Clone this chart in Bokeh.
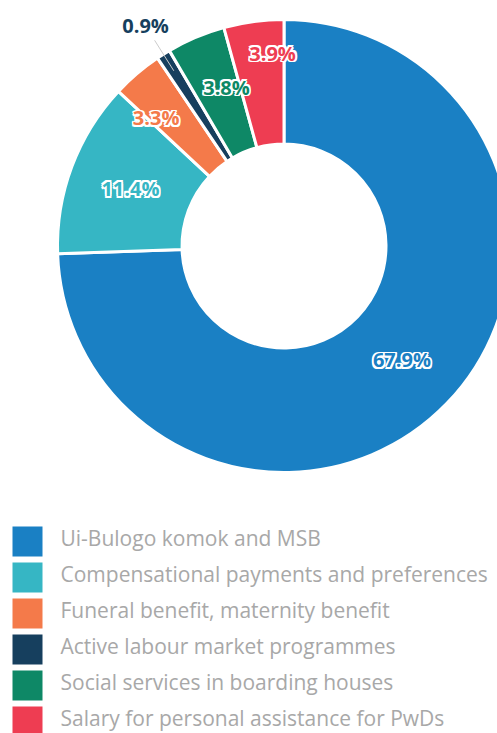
import numpy as np
from bokeh.plotting import figure
from bokeh.models import Range1d, ColumnDataSource
from bokeh.core.properties import value
from bokeh.embed import file_html
from bokeh.resources import INLINE

# ---- data ----
categories = [
    "Ui-Bulogo komok and MSB",
    "Compensational payments and preferences",
    "Funeral benefit, maternity benefit",
    "Active labour market programmes",
    "Social services in boarding houses",
    "Salary for personal assistance for PwDs",
]
shares = [67.9, 11.4, 3.3, 0.9, 3.8, 3.9]
labels = ["67.9%", "11.4%", "3.3%", "0.9%", "3.8%", "3.9%"]
colors = ["#1a80c4", "#36b6c4", "#f47a4a", "#163f5e", "#0e8866", "#ee3d52"]

# ---- layout (page pixel coords) ----
W, H = 497, 733
def Y(py):
    return H - py

cx, cy = 283.5, Y(245.5)
R_out, R_in = 226.5, 102
label_r = [164, 164, 181, 260, 169, 193]
label_shift = [0, 0, -4.5, 0, 3, 4.3]   # degrees, clockwise

vals = np.array(shares, dtype=float)
frac = vals / vals.sum()
cum_end = np.cumsum(frac)
cum_start = cum_end - frac

start_ang = np.deg2rad(90 - cum_end * 360)
end_ang = np.deg2rad(90 - cum_start * 360)

p = figure(width=W, height=H, output_backend="svg", toolbar_location=None,
           x_range=Range1d(0, W), y_range=Range1d(0, H),
           min_border=0)
p.axis.visible = False
p.grid.visible = False
p.outline_line_color = None
p.background_fill_color = "white"
p.border_fill_color = "white"

src = ColumnDataSource(dict(start=start_ang, end=end_ang, color=colors))
p.annular_wedge(x=cx, y=cy, inner_radius=R_in, outer_radius=R_out,
                start_angle="start", end_angle="end", direction="anticlock",
                fill_color="color", line_color="white", line_width=3, source=src)

# connector for small slice (index 3)
mid_deg = (cum_start + frac / 2) * 360
th = np.deg2rad(mid_deg[3])
p.line(x=[cx + 207 * np.sin(th), cx + 243 * np.sin(th)],
       y=[cy + 207 * np.cos(th), cy + 243 * np.cos(th)],
       line_color="#cccccc", line_width=1)

# labels
lx, ly = [], []
for i in range(len(shares)):
    t = np.deg2rad(mid_deg[i] + label_shift[i])
    lx.append(cx + label_r[i] * np.sin(t))
    ly.append(cy + label_r[i] * np.cos(t))
lsrc = ColumnDataSource(dict(x=lx, y=ly, text=labels, color=colors))
d = 1.6
for dx, dy in [(d, 0), (-d, 0), (0, d), (0, -d), (d, d), (d, -d), (-d, d), (-d, -d)]:
    p.text(x="x", y="y", text="text", source=lsrc, x_offset=dx, y_offset=dy,
           text_color="white", text_font=value("Open Sans"), text_font_style="bold",
           text_font_size="20px", text_align="center", text_baseline="middle")
p.text(x="x", y="y", text="text", source=lsrc, text_color="color",
       text_font=value("Open Sans"), text_font_style="bold",
       text_font_size="20px", text_align="center", text_baseline="middle")

# legend
n = len(categories)
sq_y = [Y(541 + 36 * i) for i in range(n)]
txt_y = [Y(537.5 + 36 * i) for i in range(n)]
p.rect(x=[27] * n, y=sq_y, width=30, height=30,
       fill_color=colors, line_color=None)
p.text(x=[60] * n, y=txt_y, text=categories, text_color="#a8a8a8",
       text_font=value("Open Sans"), text_font_size="21px",
       text_align="left", text_baseline="middle")

open("out.html", "w").write(file_html(p, INLINE))
